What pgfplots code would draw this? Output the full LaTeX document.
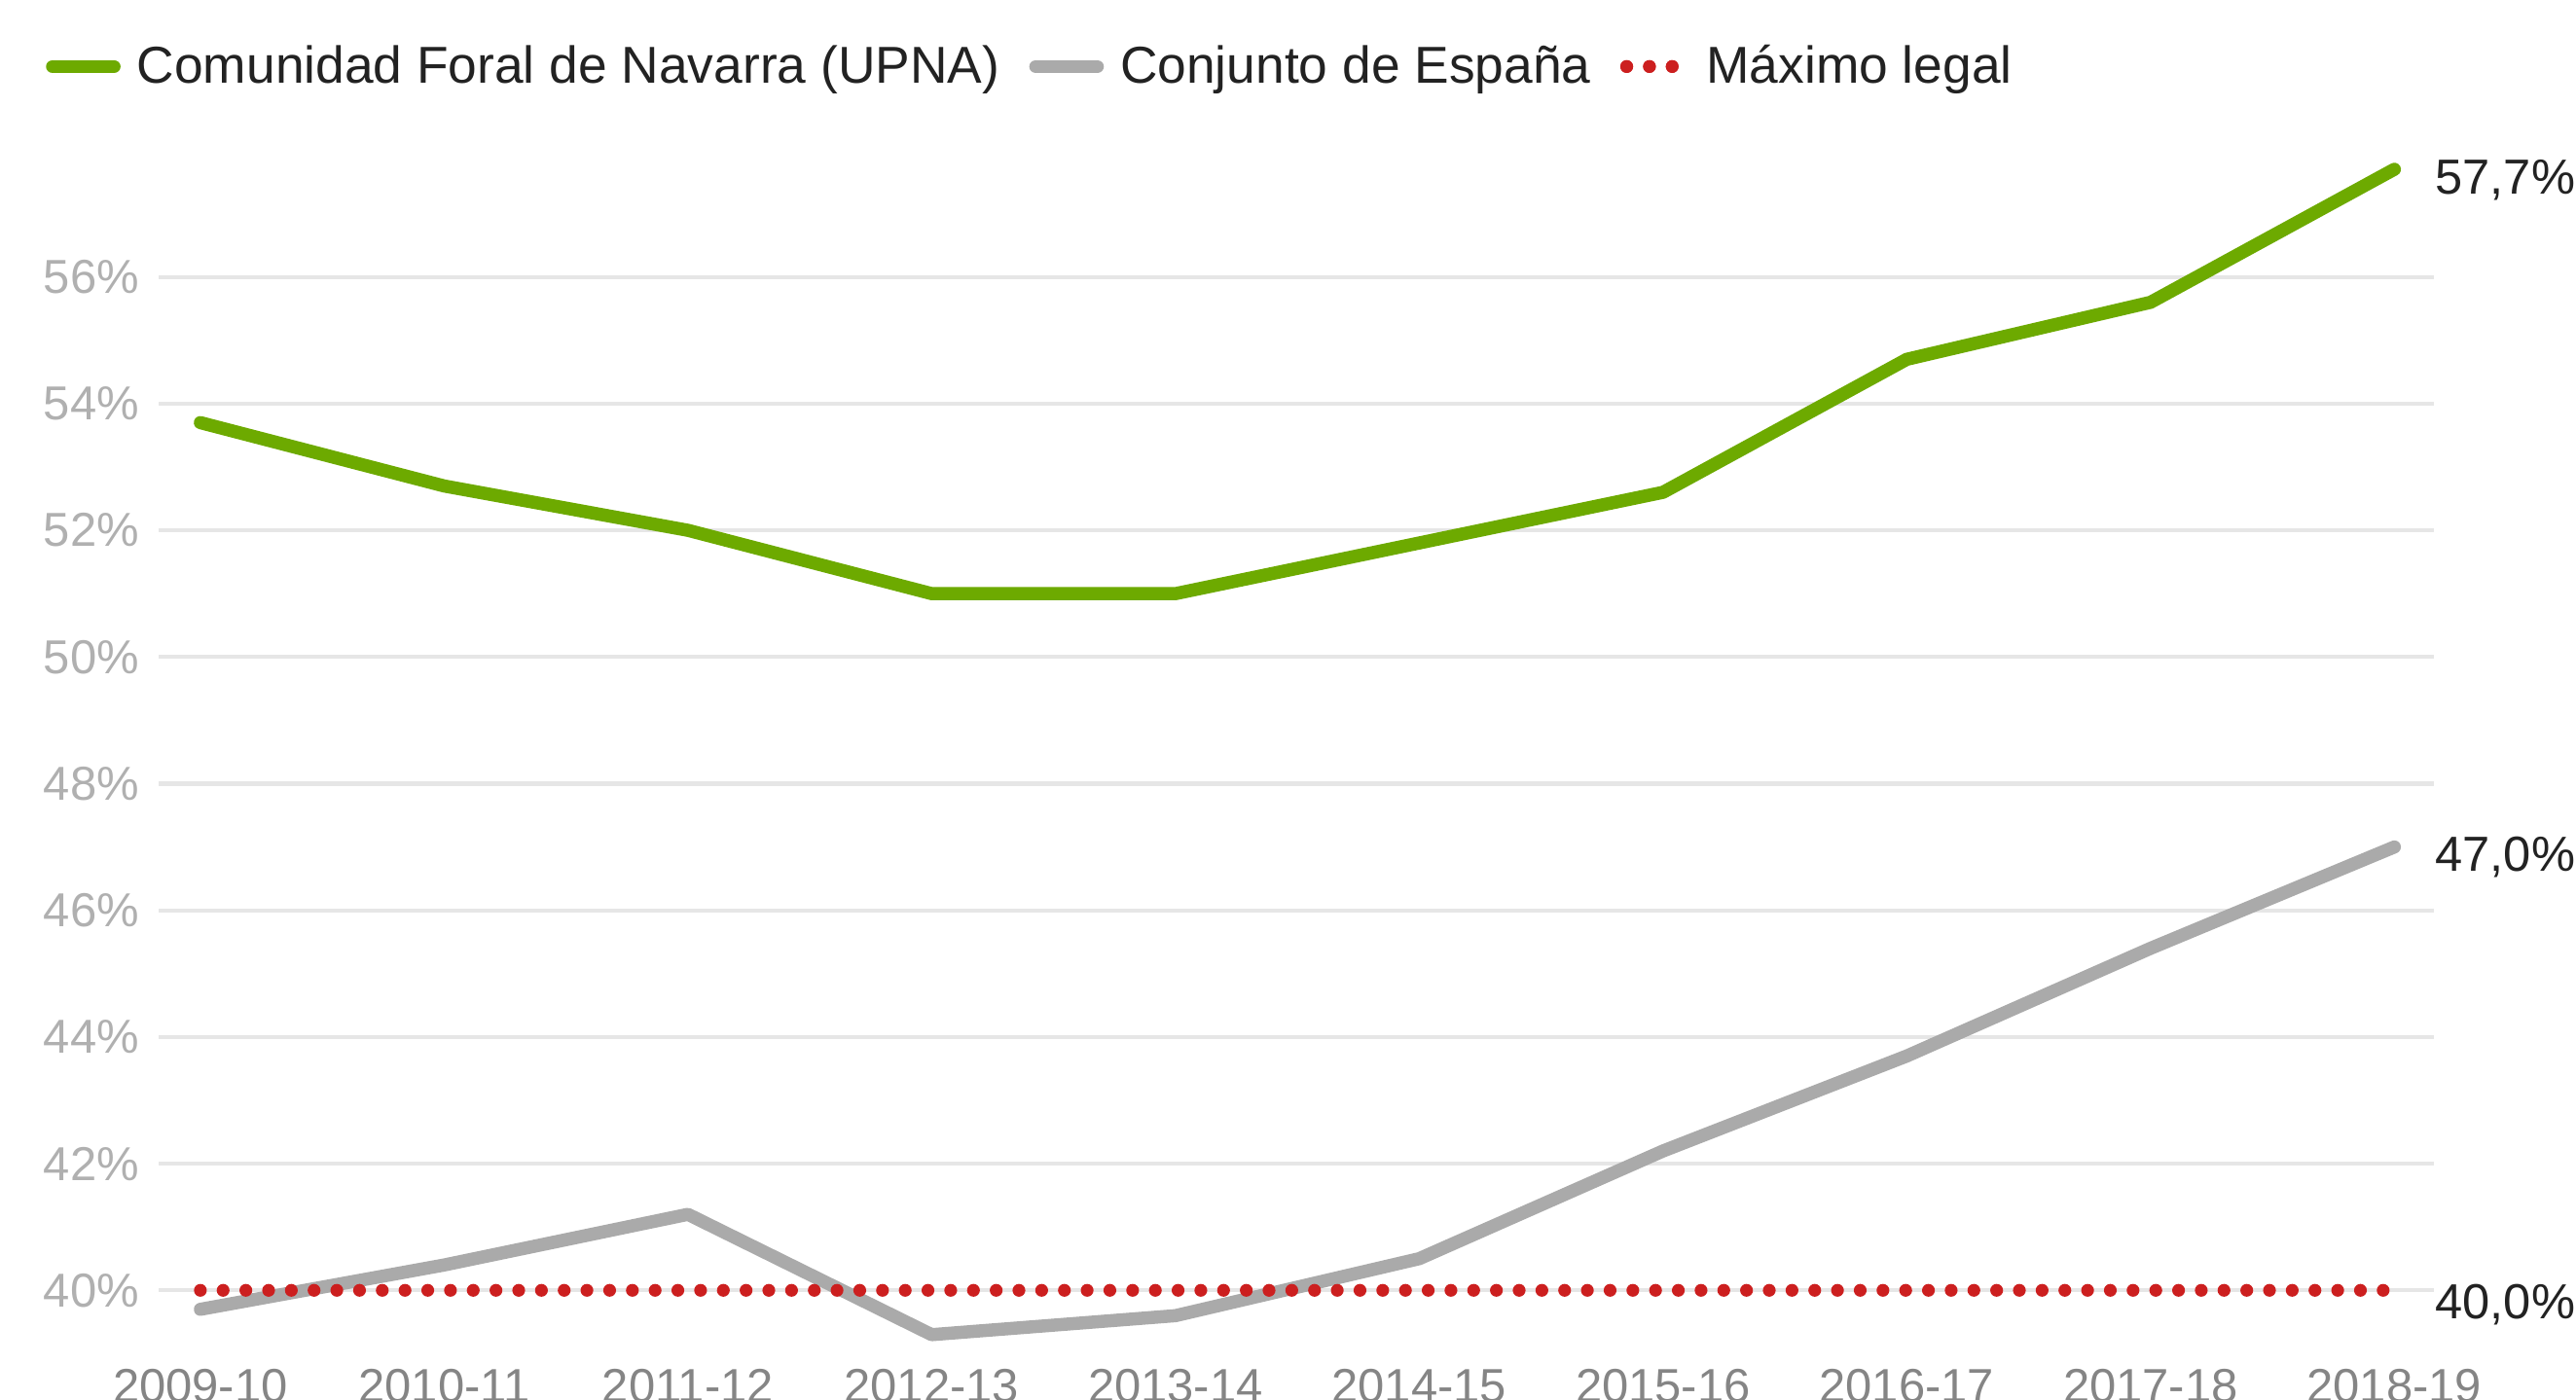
\documentclass[border=0pt]{standalone}
\usepackage{fontspec}
\setmainfont{Liberation Sans}
\usepackage{pgfplots}
\pgfplotsset{compat=1.18}
\definecolor{navgreen}{HTML}{6DAA00}
\definecolor{spgray}{HTML}{AAAAAA}
\definecolor{legred}{HTML}{CC1F1F}
\definecolor{gridc}{HTML}{E6E6E6}
\definecolor{ylab}{HTML}{B0B0B0}
\definecolor{xlab}{HTML}{858585}
\definecolor{txt}{HTML}{222222}
\pgfplotsset{
  lineimg/.style={legend image code/.code={\draw[##1] (0pt,0pt) -- (18.7pt,0pt);}},
  dotimg/.style={legend image code/.code={\draw[##1] (0pt,0pt) -- (14.1pt,0pt); \path (0pt,0pt) -- (17.3pt,0pt);}},
}
\begin{document}
\begin{tikzpicture}
\begin{axis}[
  scale only axis, width=692.5pt, height=370.2pt,
  xmin=-0.171, xmax=9.163, ymin=39, ymax=58.2,
  clip=false,
  axis line style={draw=none},
  major tick length=0pt,
  xtick={0,...,9},
  xticklabels={2009-10,2010-11,2011-12,2012-13,2013-14,2014-15,2015-16,2016-17,2017-18,2018-19},
  ytick={40,42,...,56},
  yticklabels={40\%,42\%,44\%,46\%,48\%,50\%,52\%,54\%,56\%},
  ymajorgrids, grid style={gridc, line width=1.2pt},
  xticklabel style={font=\fontsize{14.5}{17}\selectfont, text=xlab, anchor=north, inner sep=0pt, yshift=-4.6pt},
  yticklabel style={font=\fontsize{14.5}{17}\selectfont, text=ylab, anchor=east, inner sep=0pt, xshift=-5.8pt},
  legend columns=-1,
  legend cell align=left,
  legend style={draw=none, fill=none, at={(axis description cs:0,1)}, anchor=west,
    xshift=-34.5pt, yshift=21.65pt, font=\fontsize{15.8}{19}\selectfont, text=txt,
    inner sep=0pt, nodes={inner sep=0pt},
    /tikz/every odd column/.append style={column sep=5pt},
    /tikz/every even column/.append style={column sep=9pt}},
]
\addplot[navgreen, line width=4pt, line cap=round, line join=round, lineimg]
  coordinates {(0,53.7) (1,52.7) (2,52.0) (3,51.0) (4,51.0) (5,51.8) (6,52.6) (7,54.7) (8,55.6) (9,57.7)};
\addlegendentry{Comunidad Foral de Navarra (UPNA)}
\addplot[spgray, line width=4pt, line cap=round, line join=round, lineimg]
  coordinates {(0,39.7) (1,40.4) (2,41.2) (3,39.3) (4,39.6) (5,40.5) (6,42.2) (7,43.7) (8,45.4) (9,47.0)};
\addlegendentry{Conjunto de España}
\addplot[legred, line width=3.9pt, line cap=round, dash pattern=on 0pt off 6.92pt, dotimg]
  coordinates {(0,40) (9,40)};
\addlegendentry{Máximo legal}
\node[anchor=base west, text=txt, font=\fontsize{15}{18}\selectfont, inner sep=0pt, xshift=12.3pt, yshift=-7.5pt] at (axis cs:9,57.7) {57,7\%};
\node[anchor=base west, text=txt, font=\fontsize{15}{18}\selectfont, inner sep=0pt, xshift=12.3pt, yshift=-7.4pt] at (axis cs:9,47.0) {47,0\%};
\node[anchor=base west, text=txt, font=\fontsize{15}{18}\selectfont, inner sep=0pt, xshift=12.3pt, yshift=-8.6pt] at (axis cs:9,40) {40,0\%};
\end{axis}
\pgfresetboundingbox
\useasboundingbox (-48.3pt,-13.9pt) rectangle (735.7pt,412.1pt);
\end{tikzpicture}
\end{document}
